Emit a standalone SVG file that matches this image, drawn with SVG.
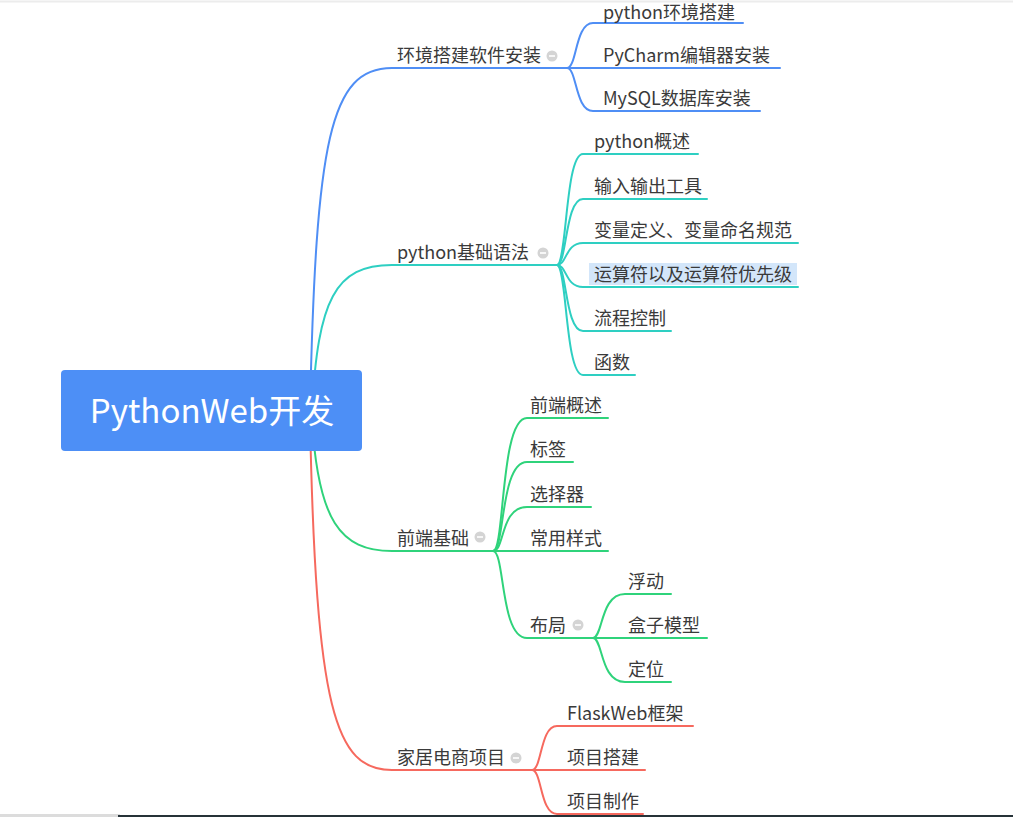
<svg xmlns="http://www.w3.org/2000/svg" width="1013" height="817" viewBox="0 0 1013 817">
<style>
text{font-family:"Noto Sans CJK SC","Noto Sans",sans-serif;font-size:18px;fill:#3a3a3a}
.c{fill:none;stroke-width:2;stroke-linecap:round}
.b{stroke:#4f8ef5}.t{stroke:#2ecfc2}.g{stroke:#2fd37b}.r{stroke:#f6695e}
.k{fill:#d4d4d4}
.m{stroke:#fff;stroke-width:1.6}
.root{font-size:33px;fill:#fff}
</style>
<rect x="0" y="0" width="1013" height="817" fill="#fff"/>
<line x1="0" y1="1.5" x2="1013" y2="1.5" stroke="#ececec" stroke-width="2"/>
<g id="connectors">
<path class="c b" d="M310,410 C316,140 330,68 392,68 L567,68"/>
<path class="c t" d="M312,410 C318,300 335,265 392,265 L557,265"/>
<path class="c g" d="M312,420 C318,520 340,551 392,551 L493,551"/>
<path class="c r" d="M310,420 C316,710 335,770 392,770 L532,770"/>
<path class="c b" d="M567,68 C577,68 575,23 593,23 L743,23"/>
<path class="c b" d="M567,68 L780,68"/>
<path class="c b" d="M567,68 C577,68 575,111 593,111 L760,111"/>
<path class="c t" d="M557,265 C567,265 565,154 583,154 L698,154"/>
<path class="c t" d="M557,265 C567,265 565,199 583,199 L707,199"/>
<path class="c t" d="M557,265 C567,265 565,243 583,243 L798,243"/>
<path class="c t" d="M557,265 C567,265 565,287 583,287 L798,287"/>
<path class="c t" d="M557,265 C567,265 565,331 583,331 L671,331"/>
<path class="c t" d="M557,265 C567,265 565,375 583,375 L635,375"/>
<path class="c g" d="M493,551 C505,551 500,418 527,418 L608,418"/>
<path class="c g" d="M493,551 C505,551 500,462 527,462 L573,462"/>
<path class="c g" d="M493,551 C505,551 500,507 527,507 L591,507"/>
<path class="c g" d="M493,551 L608,551"/>
<path class="c g" d="M493,551 C505,551 500,638 527,638 L593,638"/>
<path class="c g" d="M593,638 C603,638 600,594 625,594 L671,594"/>
<path class="c g" d="M593,638 L707,638"/>
<path class="c g" d="M593,638 C603,638 600,682 625,682 L671,682"/>
<path class="c r" d="M532,770 C542,770 540,726 557,726 L693,726"/>
<path class="c r" d="M532,770 L645,770"/>
<path class="c r" d="M532,770 C542,770 540,814 557,814 L643,814"/>
</g>
<g id="root">
<rect x="61" y="370" width="301" height="81" rx="4" fill="#4d8ff6"/>
<text class="root" x="212" y="423" text-anchor="middle">PythonWeb开发</text>
</g>
<g id="b1">
<text x="397" y="62">环境搭建软件安装</text>
<circle class="k" cx="552" cy="56" r="5.5"/><line class="m" x1="549" y1="56" x2="555" y2="56"/>
</g>
<g id="b1c1"><text x="603" y="18.5">python环境搭建</text></g>
<g id="b1c2"><text x="603" y="62">PyCharm编辑器安装</text></g>
<g id="b1c3"><text x="603" y="105">MySQL数据库安装</text></g>
<g id="b2">
<text x="397" y="259">python基础语法</text>
<circle class="k" cx="543" cy="253" r="5.5"/><line class="m" x1="540" y1="253" x2="546" y2="253"/>
</g>
<g id="b2c1"><text x="594" y="148">python概述</text></g>
<g id="b2c2"><text x="594" y="193">输入输出工具</text></g>
<g id="b2c3"><text x="594" y="237">变量定义、变量命名规范</text></g>
<g id="b2c4"><rect x="589" y="263" width="208" height="22" fill="#d3e6fa"/><text x="594" y="281">运算符以及运算符优先级</text></g>
<g id="b2c5"><text x="594" y="325">流程控制</text></g>
<g id="b2c6"><text x="594" y="369">函数</text></g>
<g id="b3">
<text x="397" y="545">前端基础</text>
<circle class="k" cx="480" cy="537" r="5.5"/><line class="m" x1="477" y1="537" x2="483" y2="537"/>
</g>
<g id="b3c1"><text x="530" y="412">前端概述</text></g>
<g id="b3c2"><text x="530" y="456">标签</text></g>
<g id="b3c3"><text x="530" y="501">选择器</text></g>
<g id="b3c4"><text x="530" y="545">常用样式</text></g>
<g id="b3c5">
<text x="530" y="632">布局</text>
<circle class="k" cx="578" cy="625" r="5.5"/><line class="m" x1="575" y1="625" x2="581" y2="625"/>
</g>
<g id="b3c5a"><text x="628" y="588">浮动</text></g>
<g id="b3c5b"><text x="628" y="632">盒子模型</text></g>
<g id="b3c5c"><text x="628" y="676">定位</text></g>
<g id="b4">
<text x="397" y="764">家居电商项目</text>
<circle class="k" cx="516" cy="758" r="5.5"/><line class="m" x1="513" y1="758" x2="519" y2="758"/>
</g>
<g id="b4c1"><text x="567" y="720">FlaskWeb框架</text></g>
<g id="b4c2"><text x="567" y="764">项目搭建</text></g>
<g id="b4c3"><text x="567" y="808">项目制作</text></g>
<rect x="0" y="814" width="120" height="3" fill="#dcdcdc"/>
<rect x="118" y="815" width="895" height="2" fill="#263238"/>
</svg>
